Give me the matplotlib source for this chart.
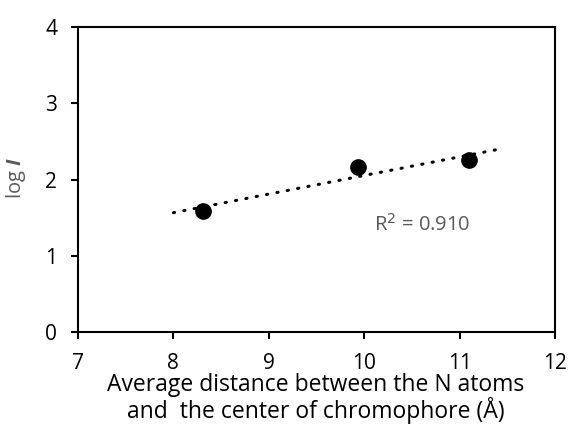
import matplotlib
matplotlib.use('Agg')
import matplotlib.pyplot as plt
import numpy as np

# --- DATA ---
distance = [8.31, 9.94, 11.10]   # average N-chromophore distance (A)
log_i = [1.59, 2.16, 2.25]
r_squared = 0.910
x_ticks = [7, 8, 9, 10, 11, 12]
y_ticks = [0, 1, 2, 3, 4]
trend_range = [8.0, 11.4]

plt.rcParams['font.family'] = ['Open Sans', 'DejaVu Sans']
plt.rcParams['mathtext.fontset'] = 'custom'
plt.rcParams['mathtext.bfit'] = 'Open Sans:bold:italic'

W, H = 568, 428
fig = plt.figure(figsize=(W / 100, H / 100), dpi=100)
ax = fig.add_axes([78 / W, 1 - 332 / H, 477 / W, 305 / H])

# linear trendline
slope, intercept = np.polyfit(distance, log_i, 1)
xt = np.array(trend_range)
ax.plot(xt, slope * xt + intercept, color='black', lw=2.2,
        linestyle=(0, (0.4, 3.05)), dash_capstyle='round', zorder=2)

ax.plot(distance, log_i, 'o', color='black', markersize=11, zorder=3)

ax.text(10.1, 1.325, 'R$^2$ = %.3f' % r_squared, color='#595959',
        fontsize=14.5, ha='left', va='baseline')

ax.set_xlim(7, 12)
ax.set_ylim(0, 4)
ax.set_xticks(x_ticks)
ax.set_yticks(y_ticks)
ax.tick_params(direction='out', length=5, width=1.5, labelsize=15,
               colors='black', pad=10)
for sp in ax.spines.values():
    sp.set_linewidth(1.5)
    sp.set_color('black')

# axis titles
fig.text(316 / W, 1 - 391 / H, 'Average distance between the N atoms',
         fontsize=16.5, ha='center', va='baseline')
fig.text(316 / W, 1 - 418 / H, 'and  the center of chromophore (\u00c5)',
         fontsize=16.5, ha='center', va='baseline')
fig.text(16 / W, 1 - 178 / H, r'log $\mathbfit{I}$', fontsize=14.5,
         color='#595959', rotation=90, ha='center', va='center')

fig.savefig('out.png', dpi=100)
